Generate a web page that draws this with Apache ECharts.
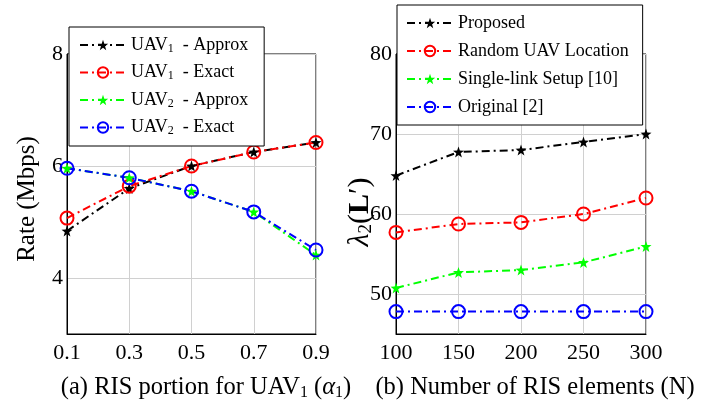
<!DOCTYPE html>
<html>
<head>
<meta charset="utf-8">
<script src="https://cdn.jsdelivr.net/npm/echarts@6/dist/echarts.min.js"></script>
<style>
  html, body { margin: 0; padding: 0; background: #fff; }
  #main { width: 722px; height: 405px; }
</style>
</head>
<body>
<div id="main"></div>
<script>
// (a) rate vs RIS portion
const alphaLabels = ['0.1', '0.3', '0.5', '0.7', '0.9'];
const uav1Approx = [4.84, 5.60, 6.00, 6.25, 6.42];
const uav1Exact = [5.07, 5.64, 6.00, 6.25, 6.42];
const uav2Approx = [5.96, 5.79, 5.55, 5.18, 4.41];
const uav2Exact = [5.96, 5.79, 5.55, 5.18, 4.50];
const rateTicks = [4, 6, 8];

// (b) lambda_2 vs number of RIS elements
const nLabels = ['100', '150', '200', '250', '300'];
const proposed = [64.8, 67.75, 68.0, 69.0, 70.0];
const randomLoc = [57.7, 58.75, 58.95, 60.0, 62.0];
const singleLink = [50.75, 52.7, 53.0, 53.95, 55.95];
const original = [47.8, 47.8, 47.8, 47.8, 47.8];
const lambdaTicks = [50, 60, 70, 80];

const FONT = 'Liberation Serif';
const dashDot = [8, 4, 2, 4];
const star = 'path://M0,-10L2.35,-3.24L9.51,-3.09L3.8,1.24L5.88,8.09L0,4L-5.88,8.09L-3.8,1.24L-9.51,-3.09L-2.35,-3.24Z';

const chart = echarts.init(document.getElementById('main'));

// 星形/圆形标记的折线
function starLine(name, data, color, gi) {
    return {
        name: name, type: 'line', data: data,
        xAxisIndex: gi, yAxisIndex: gi,
        symbol: star, symbolSize: 11,
        itemStyle: { color: color },
        lineStyle: { color: color, width: 2, type: dashDot },
        animation: false
    };
}
function circleLine(name, data, color, gi) {
    return {
        name: name, type: 'line', data: data,
        xAxisIndex: gi, yAxisIndex: gi,
        symbol: 'circle', symbolSize: 13,
        itemStyle: { color: 'transparent', borderColor: color, borderWidth: 2 },
        lineStyle: { color: color, width: 2, type: dashDot },
        animation: false
    };
}

const subRich = {
    t: { fontFamily: FONT, fontSize: 18, color: '#000' },
    s: { fontFamily: FONT, fontSize: 12, color: '#000', padding: [7, 0, 0, 0] }
};

function xAxisOf(gi, labels) {
    return {
        type: 'category', gridIndex: gi, data: labels, boundaryGap: false,
        axisLine: { lineStyle: { color: '#000', width: 1 } },
        axisTick: { show: false },
        axisLabel: { fontFamily: FONT, fontSize: 22, color: '#000', margin: 8 },
        splitLine: { show: true, lineStyle: { color: '#d0d0d0', width: 1 } }
    };
}
function yAxisOf(gi, min, max, ticks) {
    return {
        type: 'value', gridIndex: gi, min: min, max: max,
        axisLine: { show: true, lineStyle: { color: '#000', width: 1 } },
        axisTick: { show: false, customValues: ticks },
        axisLabel: { fontFamily: FONT, fontSize: 22, color: '#000', margin: 4, customValues: ticks },
        splitLine: { show: true, lineStyle: { color: '#d0d0d0', width: 1 } },
        nameLocation: 'middle',
        nameMoveOverlap: false
    };
}

const yA = yAxisOf(0, 3, 8, rateTicks);
yA.name = 'Rate (Mbps)';
yA.nameGap = 27;
yA.nameTextStyle = { fontFamily: FONT, fontSize: 25, color: '#000', padding: [0, 10, 0, 0] };

const yB = yAxisOf(1, 45, 80, lambdaTicks);
yB.name = '{i|λ}{s|2}{n|(}{b|L}{n|′)}';
yB.nameGap = 20;
yB.nameTextStyle = {
    fontFamily: FONT, fontSize: 30, color: '#000', padding: [0, 36, 0, 0],
    rich: {
        i: { fontFamily: FONT, fontSize: 30, fontStyle: 'italic', color: '#000' },
        s: { fontFamily: FONT, fontSize: 19, color: '#000', padding: [12, 0, 0, 0] },
        n: { fontFamily: FONT, fontSize: 30, color: '#000' },
        b: { fontFamily: FONT, fontSize: 30, fontWeight: 'bold', color: '#000' }
    }
};

const legendA = {
    data: ['UAV1 - Approx', 'UAV1 - Exact', 'UAV2 - Approx', 'UAV2 - Exact'],
    formatter: function (n) {
        const m = n.match(/UAV(\d) - (\w+)/);
        return '{t|UAV}{s|' + m[1] + '}{t|  - ' + m[2] + '}';
    },
    textStyle: { rich: subRich },
    itemGap: 9
};
const legendB = {
    data: ['Proposed', 'Random UAV Location', 'Single-link Setup [10]', 'Original [2]'],
    textStyle: { fontFamily: FONT, fontSize: 18, color: '#000' },
    itemGap: 10
};
[legendA, legendB].forEach(function (l) {
    Object.assign(l, {
        orient: 'vertical', itemWidth: 46, itemHeight: 13,
        backgroundColor: '#fff', borderColor: '#000', borderWidth: 1,
        selectedMode: false, z: 10
    });
});
legendA.left = 69; legendA.top = 27; legendA.padding = [9, 16, 9, 10];
legendB.left = 397; legendB.top = 5; legendB.padding = [9, 14, 9, 9];

const capRich = {
    t: { fontFamily: FONT, fontSize: 24.5, fontWeight: 'normal', color: '#000' },
    s: { fontFamily: FONT, fontSize: 16, fontWeight: 'normal', color: '#000', padding: [10, 0, 0, 0] },
    i: { fontFamily: FONT, fontSize: 24.5, fontWeight: 'normal', fontStyle: 'italic', color: '#000' }
};

const option = {
    backgroundColor: '#fff',
    animation: false,
    title: [
        {
            text: '{t|(a) RIS portion for UAV}{s|1}{t| (}{i|α}{s|1}{t|)}',
            left: 206, top: 375, textAlign: 'center', padding: 0,
            textStyle: { fontWeight: 'normal', rich: capRich }
        },
        {
            text: '(b) Number of RIS elements (N)',
            left: 535, top: 375, textAlign: 'center', padding: 0,
            textStyle: { fontFamily: FONT, fontSize: 24.5, fontWeight: 'normal', color: '#000' }
        }
    ],
    grid: [
        { left: 67, top: 54, width: 249, height: 280, show: true, borderColor: '#000', borderWidth: 1, backgroundColor: 'transparent' },
        { left: 396, top: 54, width: 250, height: 280, show: true, borderColor: '#000', borderWidth: 1, backgroundColor: 'transparent' }
    ],
    xAxis: [xAxisOf(0, alphaLabels), xAxisOf(1, nLabels)],
    yAxis: [yA, yB],
    legend: [legendA, legendB],
    series: [
        starLine('UAV1 - Approx', uav1Approx, '#000000', 0),
        circleLine('UAV1 - Exact', uav1Exact, '#ff0000', 0),
        starLine('UAV2 - Approx', uav2Approx, '#00ff00', 0),
        circleLine('UAV2 - Exact', uav2Exact, '#0000ff', 0),
        starLine('Proposed', proposed, '#000000', 1),
        circleLine('Random UAV Location', randomLoc, '#ff0000', 1),
        starLine('Single-link Setup [10]', singleLink, '#00ff00', 1),
        circleLine('Original [2]', original, '#0000ff', 1)
    ]
};

chart.setOption(option);
</script>
</body>
</html>
